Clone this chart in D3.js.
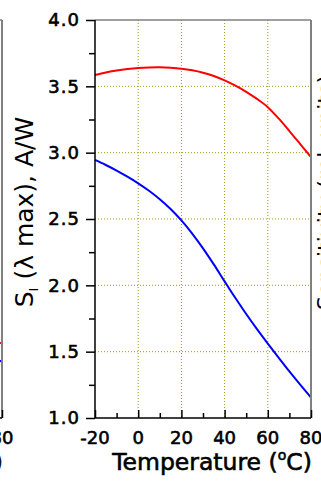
<!doctype html>
<html>
  <head>
    <title>Responsivity vs temperature</title>
    <meta charset='UTF-8'>
    <script src="https://cdn.jsdelivr.net/npm/d3@7"></script>
    <style>
      body { margin: 0; background: #fff; }
      text { font-family: "DejaVu Sans", sans-serif; fill: #000; }
      text.heavy { stroke: #000; stroke-width: 0.6px; }
    </style>
  </head>
  <body>
    <svg id='render'></svg>
    <script>
      // values, every 5 degrees
      const temps = [-20, -15, -10, -5, 0, 5, 10, 15, 20, 25, 30, 35, 40, 45, 50, 55, 60, 65, 70, 75, 80];
      const redSeries  = [3.585, 3.605, 3.619, 3.630, 3.638, 3.642, 3.643, 3.640, 3.633, 3.621, 3.603,
                          3.578, 3.545, 3.505, 3.459, 3.405, 3.343, 3.258, 3.163, 3.065, 2.966];
      const blueSeries = [2.945, 2.907, 2.865, 2.819, 2.769, 2.713, 2.649, 2.575, 2.489, 2.390, 2.279,
                          2.158, 2.030, 1.904, 1.784, 1.670, 1.561, 1.455, 1.351, 1.251, 1.154];
      const yTicks = [1.0, 1.5, 2.0, 2.5, 3.0, 3.5, 4.0];
      const xTicks = [-20, 0, 20, 40, 60, 80];

      // neighbouring panel, only its right edge shows
      const leftTemps = [60, 70, 80];
      const leftRed  = [0.030, 0.033, 0.037];
      const leftBlue = [0.022, 0.025, 0.027];
      const leftXTicks = [80];

      const W = 321, H = 481;
      const plotTop = 20, plotBottom = 418;
      const svg = d3.select("#render").attr("width", W).attr("height", H);

      function drawPanel(left, right, y, series, opts) {
        const x = d3.scaleLinear().domain([-20, 80]).range([left, right]);
        const g = svg.append("g");
        const grid = "#9c9c10";

        // grid
        g.selectAll("line.vg").data([0, 20, 40, 60]).enter().append("line")
          .attr("x1", d => x(d)).attr("x2", d => x(d))
          .attr("y1", plotTop).attr("y2", plotBottom)
          .attr("stroke", grid).attr("stroke-dasharray", "1,2");
        g.selectAll("line.hg").data(opts.gridY).enter().append("line")
          .attr("x1", left).attr("x2", right)
          .attr("y1", d => y(d)).attr("y2", d => y(d))
          .attr("stroke", grid).attr("stroke-dasharray", "1,2");

        // curves
        const line = d3.line().x(d => x(d[0])).y(d => y(d[1])).curve(d3.curveCatmullRom.alpha(0.5));
        series.forEach(s => {
          g.append("path").datum(d3.zip(s.t, s.v))
            .attr("d", line).attr("fill", "none")
            .attr("stroke", s.color).attr("stroke-width", 2);
        });

        // frame: top/right grey, left/bottom black
        g.append("line").attr("x1", left).attr("x2", right).attr("y1", plotTop).attr("y2", plotTop)
          .attr("stroke", "#808080").attr("stroke-width", 1.5);
        g.append("line").attr("x1", right).attr("x2", right).attr("y1", plotTop).attr("y2", plotBottom)
          .attr("stroke", "#808080").attr("stroke-width", 2);

        // x axis, ticks pointing inward
        const xa = g.append("g").attr("transform", `translate(0,${plotBottom})`)
          .call(d3.axisTop(x).tickValues(d3.range(-20, 81, 10)).tickSize(5).tickFormat(""));
        xa.selectAll(".tick line").filter(d => d % 20 === 0).attr("y2", -8);
        xa.selectAll("line, path").attr("stroke", "#000").attr("stroke-width", 1.5);
        xa.select(".domain").attr("d", `M${left},0H${right}`);

        g.selectAll("text.xl").data(opts.xLabels).enter().append("text")
          .attr("class", "heavy")
          .attr("x", d => x(d)).attr("y", 444)
          .attr("text-anchor", "middle").attr("font-size", 18)
          .text(d => d);

        g.append("text").attr("class", "heavy")
          .attr("x", left + 117).attr("y", 470)
          .attr("text-anchor", "middle").attr("font-size", 23.5)
          .text("Temperature (")
          .call(t => t.append("tspan").attr("font-size", 14).attr("dy", -10).text("o"))
          .call(t => t.append("tspan").attr("dy", 10).text("C)"));
        return g;
      }

      // main panel
      const y = d3.scaleLinear().domain([1, 4]).range([plotBottom, plotTop]);
      const main = drawPanel(95, 311, y,
        [{t: temps, v: redSeries, color: "#ff0000"}, {t: temps, v: blueSeries, color: "#0000ff"}],
        {gridY: [1.5, 2.0, 2.5, 3.0, 3.5], xLabels: xTicks});

      const ya = main.append("g").attr("transform", "translate(95,0)")
        .call(d3.axisLeft(y).tickValues(d3.range(1, 4.01, 0.25)).tickSize(6).tickFormat(""));
      ya.selectAll(".tick line").filter(d => Math.abs(d * 2 - Math.round(d * 2)) < 1e-6).attr("x2", -9);
      ya.selectAll("line, path").attr("stroke", "#000").attr("stroke-width", 1.5);
      ya.select(".domain").attr("d", `M0,${plotTop}V${plotBottom}`);

      main.selectAll("text.yl").data(yTicks).enter().append("text")
        .attr("class", "heavy")
        .attr("x", 80).attr("y", d => y(d)).attr("dy", "0.36em")
        .attr("text-anchor", "end").attr("font-size", 18)
        .attr("letter-spacing", 1)
        .text(d => d.toFixed(1));

      main.append("text").attr("transform", "translate(33,212) rotate(-90)")
        .attr("text-anchor", "middle").attr("font-size", 25)
        .text("S")
        .call(t => t.append("tspan").attr("font-size", 13).attr("dy", 5).text("I"))
        .call(t => t.append("tspan").attr("dy", -5).text(" (\u03bb max), A/W"));

      // left neighbour panel, shifted so its right border sits at x=2
      const yl = d3.scaleLog().domain([0.01, 10]).range([plotBottom, plotTop]);
      drawPanel(-214, 2, yl,
        [{t: leftTemps, v: leftRed, color: "#ff0000"}, {t: leftTemps, v: leftBlue, color: "#0000ff"}],
        {gridY: [0.02, 0.03, 0.05, 0.1, 0.2, 0.5, 1, 2, 5], xLabels: leftXTicks});

      // axis title of the right neighbour panel, mostly cut off
      svg.append("text").attr("transform", "translate(333,310) rotate(-90)")
        .attr("font-size", 22).text("Sensitivity (rel. units)");
    </script>
  </body>
</html>
